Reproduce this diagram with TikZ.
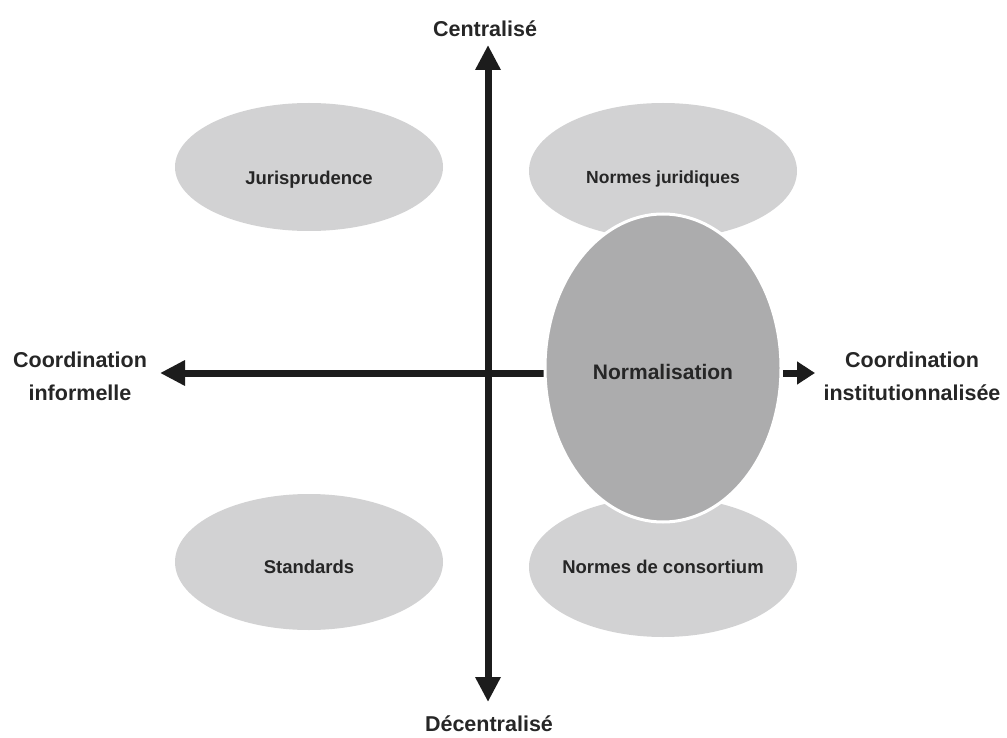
\documentclass[tikz,border=0pt]{standalone}
\usepackage{fontspec}
\setmainfont{Liberation Sans}
\usetikzlibrary{arrows.meta,shapes.geometric}
\definecolor{lightfill}{RGB}{210,210,211}
\definecolor{darkfill}{RGB}{172,172,173}
\definecolor{inkcol}{RGB}{28,28,28}
\definecolor{txtcol}{RGB}{38,38,38}
\tikzset{
  zone/.style={ellipse, fill=lightfill, draw=none, inner sep=0pt},
  bigzone/.style={ellipse, fill=darkfill, draw=white, line width=3pt, inner sep=0pt},
  zonetext/.style={text=txtcol, inner sep=0pt, font=\bfseries\fontsize{18.5}{22}\selectfont},
  axislabel/.style={text=txtcol, align=center, inner sep=0pt,
    font=\bfseries\fontsize{21.5}{33}\selectfont},
  axisline/.style={draw=inkcol, line width=7pt,
    -{Triangle[length=25pt,width=24pt]}},
  stubline/.style={draw=inkcol, line width=7pt,
    -{Triangle[length=18pt,width=22pt]}}
}
\begin{document}
\begin{tikzpicture}[x=1pt,y=-1pt]
\useasboundingbox (0,0) rectangle (1007,738);
% light ellipses
\node[zone, minimum width=268pt, minimum height=128pt] (juris) at (309,167) {};
\node[zone, minimum width=268pt, minimum height=136pt] (njur) at (663,171) {};
\node[zone, minimum width=268pt, minimum height=136pt] (stand) at (309,562) {};
\node[zone, minimum width=268pt, minimum height=140pt] (ncons) at (663,567) {};
% axes
\coordinate (vT) at (488,45);
\coordinate (vB) at (488,702);
\coordinate (vMid) at (488,373);
\coordinate (hL) at (160,373);
\coordinate (hR) at (620,373);
\draw[axisline] (vMid) -- (vT);
\draw[axisline] (vMid) -- (vB);
\draw[axisline] (hR) -- (hL);
% central ellipse
\node[bigzone, minimum width=236pt, minimum height=308pt] (norm) at (663,368) {};
% ellipse texts
\node[zonetext] (jurtxt) at (309,180) {Jurisprudence};
\node[zonetext, font=\bfseries\fontsize{17.5}{21}\selectfont] (njurtxt) at (663,179) {Normes juridiques};
\node[zonetext] (standtxt) at (309,567) {Standards};
\node[zonetext] (nconstxt) at (663,567) {Normes de consortium};
\node[zonetext, font=\bfseries\fontsize{21}{25}\selectfont] (normtxt) at (663,372) {Normalisation};
% right stub arrow
\coordinate (sA) at (783,373);
\coordinate (sB) at (815,373);
\draw[stubline] (sA) -- (sB);
% axis labels
\node[axislabel] (lTop) at (485,29) {Centralisé};
\node[axislabel] (lBot) at (489,724) {Décentralisé};
\node[axislabel] (lLeft) at (80,376) {Coordination\\informelle};
\node[axislabel] (lRight) at (912,376) {Coordination\\institutionnalisée};
\end{tikzpicture}
\end{document}
